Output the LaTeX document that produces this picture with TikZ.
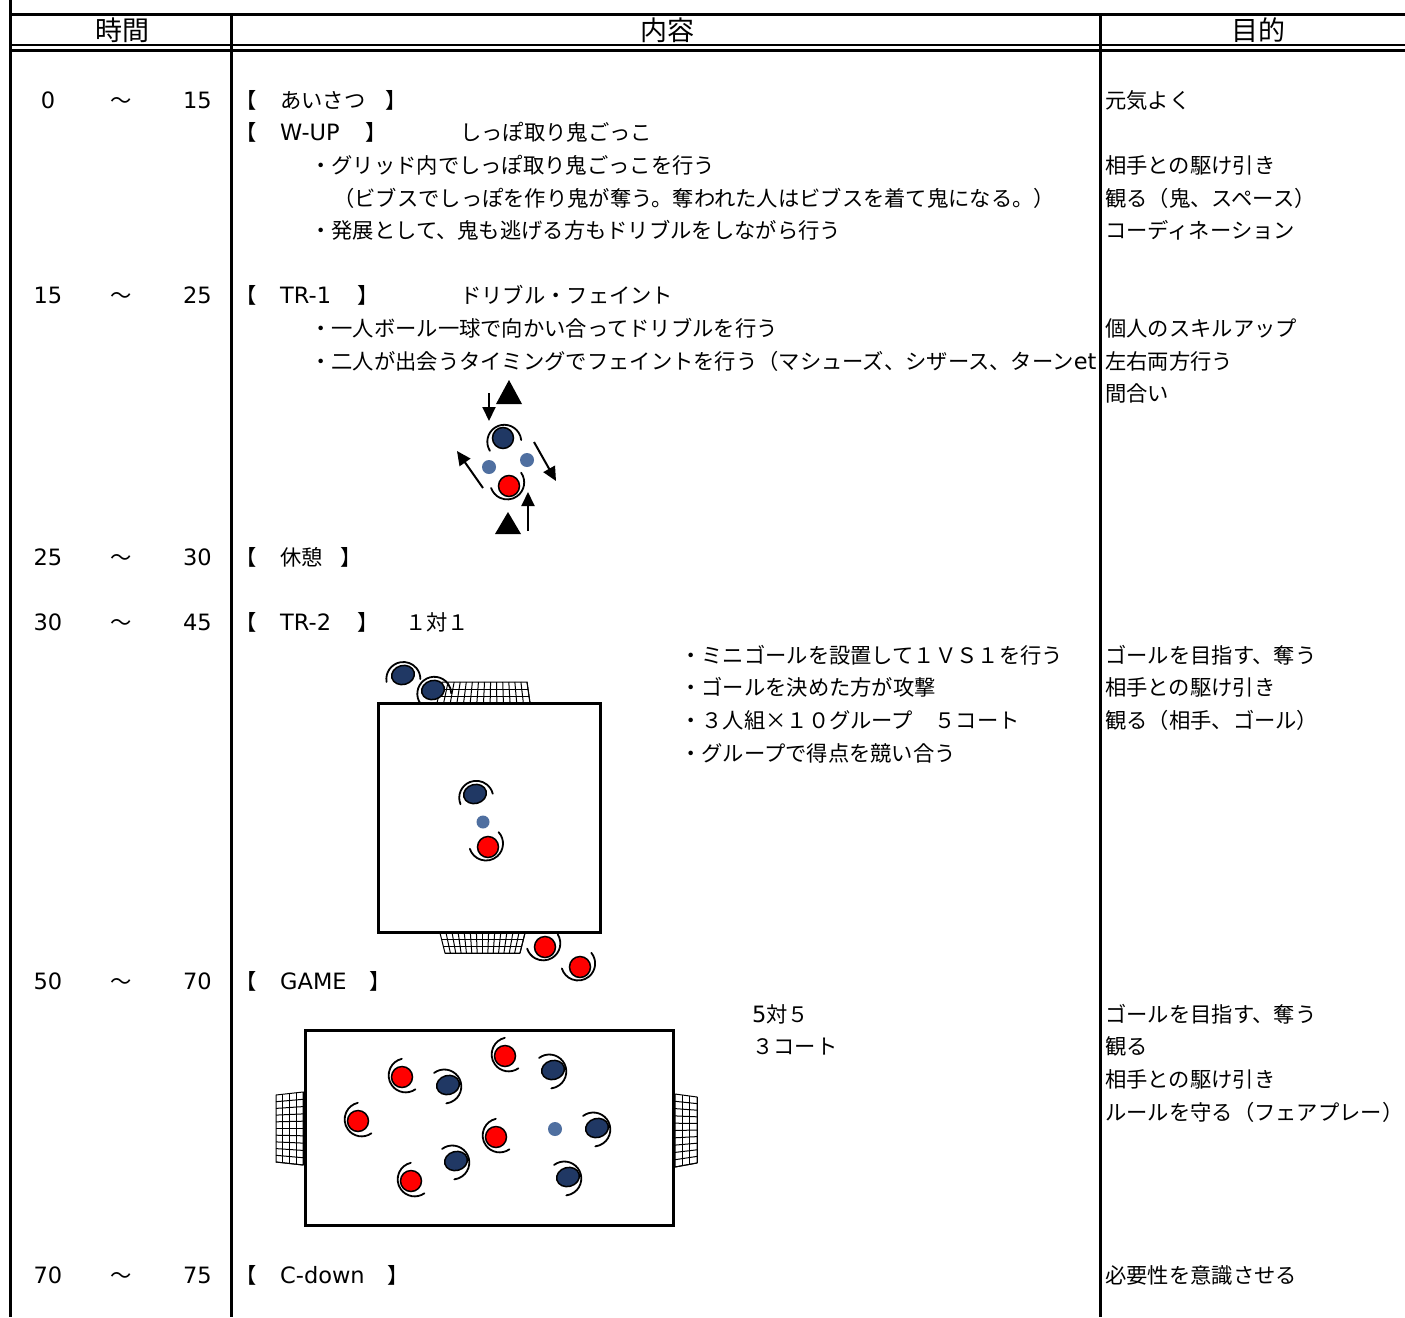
\documentclass[tikz,border=0pt]{standalone}
\usepackage{fontspec}
\setmainfont{Noto Sans CJK JP}
\newfontfamily\latfam{DejaVu Sans}
\newcommand\lat[1]{{\latfam\fontsize{22.5}{24}\selectfont #1}}
\usetikzlibrary{calc,arrows.meta,shapes.geometric}
\definecolor{navy}{RGB}{32,56,100}
\definecolor{dotblue}{RGB}{79,111,160}
\tikzset{
  txt/.style={anchor=base west, inner sep=0pt, font=\fontsize{21.3}{24}\selectfont},
  rtxt/.style={anchor=base east, inner sep=0pt, font=\fontsize{21.3}{24}\selectfont},
  ctxt/.style={anchor=base, inner sep=0pt, font=\fontsize{21.3}{24}\selectfont},
  hdr/.style={inner sep=0pt, font=\fontsize{27}{30}\selectfont},
  rule/.style={line width=3pt},
  thinrule/.style={line width=2.4pt},
  swoosh/.style={line width=1.8pt, line cap=round},
  redpl/.style={circle, fill=red, draw=black, line width=1.5pt, minimum size=21pt, inner sep=0pt},
  bluepl/.style={ellipse, fill=navy, draw=black, line width=1.5pt, minimum width=23pt, minimum height=19pt, inner sep=0pt, rotate=15},
  balldot/.style={circle, fill=dotblue, inner sep=0pt},
  arr/.style={line width=2pt, -{Triangle[length=14pt,width=13pt]}},
  net/.style={line width=1pt},
  field/.style={line width=3pt},
}
% swoosh arc: x, y, mid angle, half span
\newcommand\swsh[4]{%
  \draw[swoosh] ($(#1,#2)+(#3+180:4)+(#3-#4:17)$) arc[start angle=#3-#4, end angle=#3+#4, radius=17];}
\newcommand\redP[5]{\swsh{#2}{#3}{#4}{#5}\node[redpl] (#1) at (#2,#3) {};}
\newcommand\blueP[5]{\swsh{#2}{#3}{#4}{#5}\node[bluepl] (#1) at (#2,#3) {};}
% goal net: TL, TR, BR, BL, cols, rows
\newcommand\goalnet[6]{%
  \fill[white] (#1) -- (#2) -- (#3) -- (#4) -- cycle;
  \draw[net] (#1) -- (#2) -- (#3) -- (#4) -- cycle;
  \foreach \i in {1,...,#5}{\draw[net] ($(#1)!\i/#5!(#2)$) -- ($(#4)!\i/#5!(#3)$);}
  \foreach \j in {1,...,#6}{\draw[net] ($(#1)!\j/#6!(#4)$) -- ($(#2)!\j/#6!(#3)$);}
}
\begin{document}
\begin{tikzpicture}[x=1pt,y=-1pt]
\useasboundingbox (0,0) rectangle (1405,1317);
\fill[white] (0,0) rectangle (1405,1317);

% ---------- header ----------
\node[hdr] (h1) at (122,30) {時間};
\node[hdr] (h2) at (667,30) {内容};
\node[hdr] (h3) at (1258,30) {目的};

% ---------- time column ----------
\foreach \y/\a/\b [count=\k] in {100/0/15, 295/15/25, 557/25/30, 622/30/45, 981/50/70, 1275/70/75}{
  \node[ctxt] (ta\k) at (48,\y+8) {\lat{\a}};
  \node[ctxt] (tw\k) at (121,\y+8) {～};
  \node[rtxt] (tb\k) at (212,\y+8) {\lat{\b}};
}

% ---------- content column ----------
\node[txt] (o1) at (235,108) {【};
\node[txt] (c1) at (280,108) {あいさつ};
\node[txt] (e1) at (385,108) {】};

\node[txt] (o2) at (235,140) {【};
\node[txt] (c2) at (280,140) {\lat{W-UP}};
\node[txt] (e2) at (365,140) {】};
\node[txt] (c2b) at (460,140) {しっぽ取り鬼ごっこ};
\node[txt] (c3) at (310,173) {・グリッド内でしっぽ取り鬼ごっこを行う};
\node[txt] (c4) at (333,206) {（ビブスでしっぽを作り鬼が奪う。奪われた人はビブスを着て鬼になる。）};
\node[txt] (c5) at (310,238) {・発展として、鬼も逃げる方もドリブルをしながら行う};

\node[txt] (o3) at (235,303) {【};
\node[txt] (c6) at (280,303) {\lat{TR-1}};
\node[txt] (e3) at (357,303) {】};
\node[txt] (c6b) at (460,303) {ドリブル・フェイント};
\node[txt] (c7) at (310,336) {・一人ボール一球で向かい合ってドリブルを行う};
\begin{scope}
  \clip (232,340) rectangle (1100,385);
  \node[txt] (c8) at (310,369) {・二人が出会うタイミングでフェイントを行う（マシューズ、シザース、ターン\lat{et}};
\end{scope}

\node[txt] (o4) at (235,565) {【};
\node[txt] (c9) at (280,565) {休憩};
\node[txt] (e4) at (340,565) {】};

\node[txt] (o5) at (235,630) {【};
\node[txt] (c10) at (280,630) {\lat{TR-2}};
\node[txt] (e5) at (357,630) {】};
\node[txt] (c10b) at (405,630) {１対１};
\node[txt] (c11) at (680,663) {・ミニゴールを設置して１ＶＳ１を行う};
\node[txt] (c12) at (680,695) {・ゴールを決めた方が攻撃};
\node[txt] (c13) at (680,728) {・３人組×１０グループ　５コート};
\node[txt] (c14) at (680,761) {・グループで得点を競い合う};

\node[txt] (o6) at (235,989) {【};
\node[txt] (c15) at (280,989) {\lat{GAME}};
\node[txt] (e6) at (369,989) {】};
\node[txt] (c16) at (752,1022) {\lat{5}対５};
\node[txt] (c17) at (752,1054) {３コート};

\node[txt] (o7) at (235,1283) {【};
\node[txt] (c18) at (280,1283) {\lat{C-down}};
\node[txt] (e7) at (387,1283) {】};

% ---------- purpose column ----------
\foreach \y/\t [count=\k] in {
  100/元気よく, 165/相手との駆け引き, 198/観る（鬼、スペース）, 230/コーディネーション,
  328/個人のスキルアップ, 361/左右両方行う, 393/間合い,
  655/ゴールを目指す、奪う, 687/相手との駆け引き, 720/観る（相手、ゴール）,
  1014/ゴールを目指す、奪う, 1046/観る, 1079/相手との駆け引き, 1112/ルールを守る（フェアプレー）,
  1275/必要性を意識させる}{
  \node[txt] (p\k) at (1105,\y+8) {\t};
}

% ---------- TR-1 diagram ----------
\fill (509,380) -- (522,404) -- (496,404) -- cycle;
\fill (508,512) -- (521,534) -- (495,534) -- cycle;
\coordinate (a1s) at (489,393); \coordinate (a1e) at (489,421);
\coordinate (a2s) at (483,488); \coordinate (a2e) at (457,451);
\coordinate (a3s) at (534,442); \coordinate (a3e) at (556,481);
\coordinate (a4s) at (528,531); \coordinate (a4e) at (528,492);
\draw[arr] (a1s) -- (a1e);
\draw[arr] (a2s) -- (a2e);
\draw[arr] (a3s) -- (a3e);
\draw[arr] (a4s) -- (a4e);
\node[balldot, minimum size=14pt] (d1) at (489,467) {};
\node[balldot, minimum size=14pt] (d2) at (527,460) {};
\swsh{503}{438}{251}{103}
\node[circle, fill=navy, draw=black, line width=1.5pt, minimum size=21pt, inner sep=0pt] (b0) at (503,438) {};
\redP{r0}{509}{486}{63}{98}

% ---------- TR-2 diagram ----------
\goalnet{442,682}{527,682}{530,703}{437,703}{14}{3}
\goalnet{440,933}{525,933}{520,953}{445,953}{14}{3}
\draw[field] (378,703) rectangle (600,932);
\blueP{b1}{403}{675}{265}{95}
\blueP{b2}{433}{690}{251}{108}
\blueP{b3}{475}{794}{252}{94}
\node[balldot, minimum size=13pt] (d3) at (483,822) {};
\redP{r1}{488}{847}{60}{102}
\redP{r2}{545}{947}{65}{97}
\redP{r3}{580}{967}{62}{101}

% ---------- GAME diagram ----------
\goalnet{276,1095}{303,1092}{303,1165}{276,1162}{4}{10}
\goalnet{675,1094}{697,1097}{697,1163}{675,1167}{3}{10}
\draw[field] (305,1030) rectangle (673,1225);
\redP{g1}{402}{1077}{156}{101}
\redP{g2}{358}{1121}{156}{101}
\redP{g3}{505}{1056}{156}{101}
\redP{g4}{496}{1137}{156}{101}
\redP{g5}{411}{1181}{156}{101}
\blueP{g6}{448}{1085}{338}{105}
\blueP{g7}{553}{1070}{338}{105}
\blueP{g8}{597}{1128}{338}{105}
\blueP{g9}{456}{1161}{338}{105}
\blueP{g10}{568}{1177}{338}{105}
\node[balldot, minimum size=14pt] (d4) at (555,1129) {};

% ---------- table rules ----------
\draw[rule] (10,0) -- (10,1317);
\draw[rule] (231,14) -- (231,1317);
\draw[rule] (1100,14) -- (1100,1317);
\draw[rule] (10,14) -- (1405,14);
\draw[thinrule] (10,45) -- (1405,45);
\draw[thinrule] (10,50.5) -- (1405,50.5);
\end{tikzpicture}
\end{document}
